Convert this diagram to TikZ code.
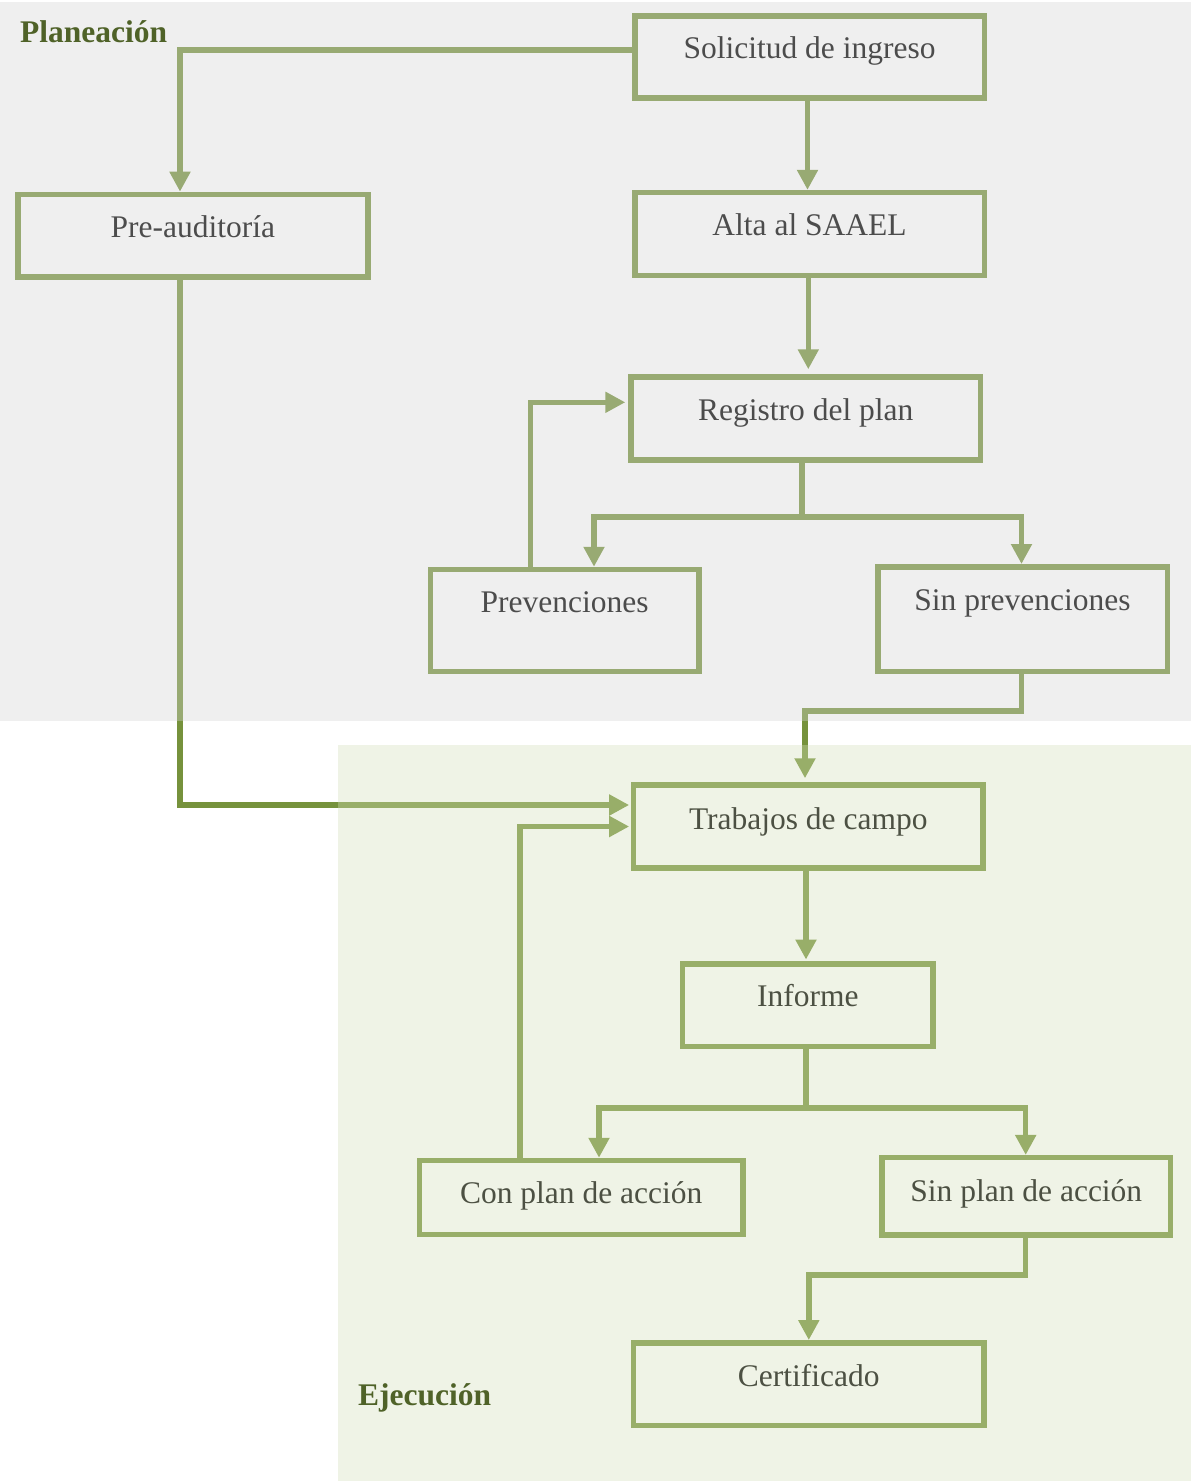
\documentclass[tikz,border=0pt]{standalone}
\usepackage{fontspec}
\setmainfont{Liberation Serif}
\usetikzlibrary{arrows.meta}
\definecolor{olive}{HTML}{76923C}
\definecolor{olivedark}{HTML}{4F6228}
\definecolor{veilgray}{RGB}{213,213,213}
\definecolor{veilgreen}{RGB}{213,224,186}
\tikzset{
  stepbox/.style={draw=olive, line width=5.5pt, rectangle, inner sep=0pt,
    font=\fontsize{31.5}{36}\selectfont, text=black},
  conn/.style={draw=olive, line width=5.5pt},
  arr/.style={conn, -{Triangle[length=20pt,width=20pt]}},
  phase/.style={font=\fontsize{31.5}{36}\selectfont\bfseries, text=olivedark,
    anchor=base west, inner sep=0pt},
  veil/.style={opacity=0.36}
}
\begin{document}
\begin{tikzpicture}[x=1pt, y=-1pt]
\useasboundingbox (0,0) rectangle (1191,1481);
\fill[white] (0,0) rectangle (1191,1481);

% process steps
\node[stepbox, minimum width=349.5pt, minimum height=82pt, text height=11pt, text depth=9pt]
  (sol) at (809.5,57) {Solicitud de ingreso};
\node[stepbox, minimum width=349.5pt, minimum height=82.8pt, text height=11pt, text depth=9pt]
  (alta) at (809.5,234) {Alta al SAAEL};
\node[stepbox, minimum width=350pt, minimum height=82.8pt, text height=11.5pt, text depth=8.5pt]
  (pre) at (192.8,235.8) {Pre-auditoría};
\node[stepbox, minimum width=349.5pt, minimum height=83pt, text height=11.5pt, text depth=8.5pt]
  (reg) at (805.8,418.5) {Registro del plan};
\node[stepbox, minimum width=268.5pt, minimum height=102pt, text height=1.5pt, text depth=18.5pt]
  (prev) at (564.7,620.5) {Prevenciones};
\node[stepbox, minimum width=289.5pt, minimum height=104.5pt, text height=1.7pt, text depth=18.3pt]
  (sinp) at (1022.5,619) {Sin prevenciones};
\node[stepbox, minimum width=349.8pt, minimum height=83pt, text height=12.5pt, text depth=7.5pt]
  (trab) at (808.3,826.5) {Trabajos de campo};
\node[stepbox, minimum width=250.2pt, minimum height=82.8pt, text height=11.5pt, text depth=8.5pt]
  (inf) at (807.8,1005.2) {Informe};
\node[stepbox, minimum width=323.5pt, minimum height=74pt, text height=15.8pt, text depth=4.2pt]
  (con) at (581.2,1197.5) {Con plan de acción};
\node[stepbox, minimum width=288.5pt, minimum height=77.2pt, text height=15.4pt, text depth=4.6pt]
  (sinpa) at (1026.3,1196.3) {Sin plan de acción};
\node[stepbox, minimum width=350.2pt, minimum height=82.8pt, text height=12.5pt, text depth=7.5pt]
  (cert) at (808.8,1384.2) {Certificado};

% junction points of the branching connectors
\coordinate (j1) at (802,517);
\coordinate (k1) at (1021.7,711);
\coordinate (k2) at (805,711);
\coordinate (j2) at (806,1108);
\coordinate (m1) at (1025.7,1275);
\coordinate (m2) at (808.8,1275);

% connectors
\draw[arr] ([yshift=7pt]sol.west) -| ([xshift=-12.8pt]pre.north);
\draw[arr] ([xshift=-2pt]sol.south) -- ([xshift=-2pt]alta.north);
\draw[arr, shorten >=5pt] ([xshift=-1.2pt]alta.south) -- ([xshift=2.5pt]reg.north);
\draw[conn] (reg.south -| j1) -- (j1);
\draw[arr] (j1) -| ([xshift=29.3pt]prev.north);
\draw[arr] (j1) -| ([xshift=-1pt]sinp.north);
\draw[arr, shorten >=3pt] ([xshift=-34pt]prev.north) |- ([yshift=16.2pt]reg.west);
\draw[arr, shorten >=4pt] (sinp.south -| k1) -- (k1) -- (k2) -- (trab.north -| k2);
\draw[arr, shorten >=1.5pt] ([xshift=-12.8pt]pre.south) |- ([yshift=21.5pt]trab.west);
\draw[arr, shorten >=1.5pt] ([xshift=-61.2pt]con.north) |- (trab.west);
\draw[arr, shorten >=1.5pt] ([xshift=-2.3pt]trab.south) -- ([xshift=-1.8pt]inf.north);
\draw[conn] (inf.south -| j2) -- (j2);
\draw[arr] (j2) -| ([xshift=17.8pt]con.north);
\draw[arr] (j2) -| ([xshift=-0.6pt]sinpa.north);
\draw[arr] (sinpa.south -| m1) -- (m1) -- (m2) -- (cert.north);

% phase panels laid over the chart
\fill[veilgray, veil] (0,1.5) rectangle (1191,720.7);
\fill[veilgreen, veil] (338,745) rectangle (1191,1481);

% phase titles
\node[phase] (tplan) at (20,42.7) {Planeación};
\node[phase] (tejec) at (358,1405.7) {Ejecución};
\end{tikzpicture}
\end{document}
